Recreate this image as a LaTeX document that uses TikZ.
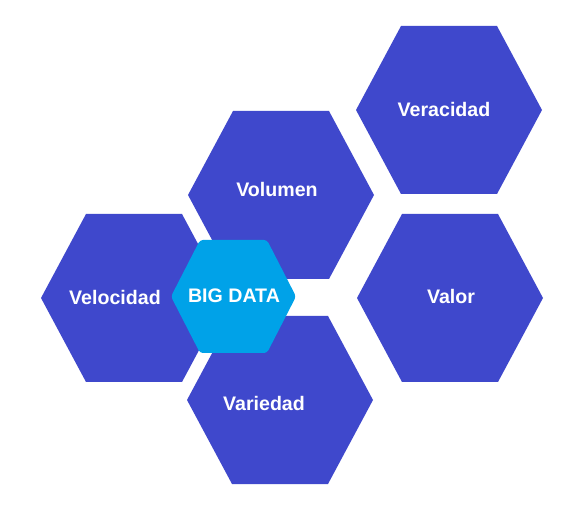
\documentclass[tikz,border=0pt]{standalone}
\usepackage{fontspec}
\setmainfont{Liberation Sans}
\definecolor{hexblue}{HTML}{3F48CC}
\definecolor{coreblue}{HTML}{00A2E8}
\newcommand\hexpath[5]{(#1-#3,#2) -- (#1-#5,#2-#4) -- (#1+#5,#2-#4) -- (#1+#3,#2) -- (#1+#5,#2+#4) -- (#1-#5,#2+#4) -- cycle}
\tikzset{
  hexfill/.style={fill=hexblue, draw=none},
  corefill/.style={fill=coreblue, draw=none, rounded corners=3pt},
  lbl/.style={text=white, font=\fontsize{19.6}{22}\selectfont\bfseries, inner sep=0pt}
}
\begin{document}
\begin{tikzpicture}[x=1pt,y=-1pt]
\useasboundingbox (0,0) rectangle (571,513);
\fill[white] (0,0) rectangle (571,513);
% hexagons
\path[hexfill] \hexpath{449}{110}{93}{84}{48};
\path[hexfill] \hexpath{281}{195}{93}{84}{48};
\path[hexfill] \hexpath{134}{298}{93}{84}{48};
\path[hexfill] \hexpath{450}{298}{93}{84}{48};
\path[hexfill] \hexpath{280}{400}{93}{84}{48};
\path[corefill] \hexpath{233.5}{296.5}{62.5}{56.5}{33.5};
% labels
\node[lbl] (veracidad) at (444,109) {Veracidad};
\node[lbl] (volumen) at (277,189) {Volumen};
\node[lbl] (velocidad) at (115,297) {Velocidad};
\node[lbl] (valor) at (451,296) {Valor};
\node[lbl] (variedad) at (264,403) {Variedad};
\node[lbl] (bigdata) at (234,296) {BIG DATA};
\end{tikzpicture}
\end{document}
